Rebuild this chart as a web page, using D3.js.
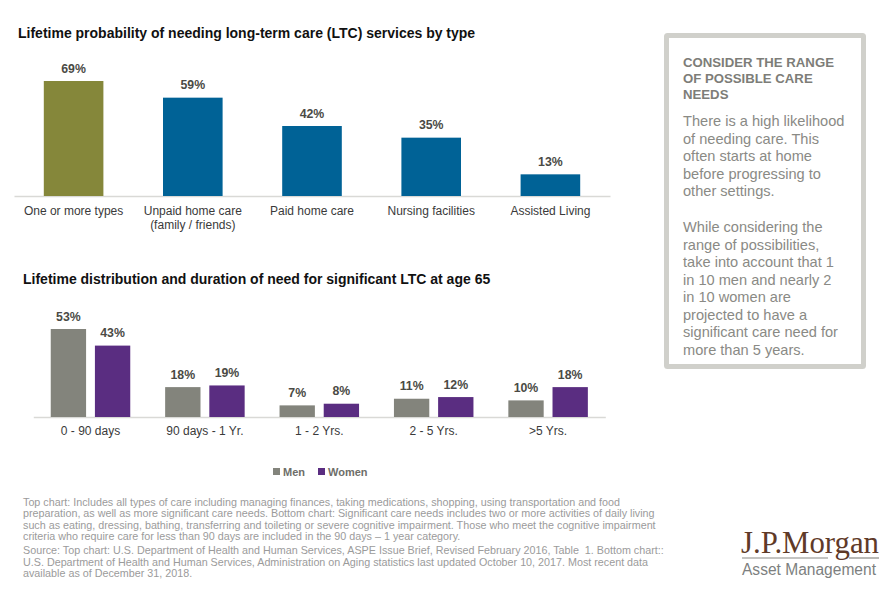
<!DOCTYPE html>
<html>
<head>
<meta charset="utf-8">
<script src="https://cdnjs.cloudflare.com/ajax/libs/d3/7.8.5/d3.min.js"></script>
<style>
  body { margin: 0; background: #fff; }
  text { font-family: "Liberation Sans", Arial, sans-serif; }
</style>
</head>
<body>
<div id="chart-area"></div>
<script>
// Top chart data
var typeLabels = ["One or more types", "Unpaid home care|(family / friends)", "Paid home care", "Nursing facilities", "Assisted Living"];
var typeValues = [69, 59, 42, 35, 13];

// Bottom chart data
var durationLabels = ["0 - 90 days", "90 days - 1 Yr.", "1 - 2 Yrs.", "2 - 5 Yrs.", ">5 Yrs."];
var seriesNames = ["Men", "Women"];
var menValues = [53, 18, 7, 11, 10];
var womenValues = [43, 19, 8, 12, 18];

// Text blocks
var topTitle = "Lifetime probability of needing long-term care (LTC) services by type";
var bottomTitle = "Lifetime distribution and duration of need for significant LTC at age 65";
var panelHeading = ["CONSIDER THE RANGE", "OF POSSIBLE CARE", "NEEDS"];
var panelPara1 = ["There is a high likelihood", "of needing care. This", "often starts at home", "before progressing to", "other settings."];
var panelPara2 = ["While considering the", "range of possibilities,", "take into account that 1", "in 10 men and nearly 2", "in 10 women are", "projected to have a", "significant care need for", "more than 5 years."];
var notes = [
    "Top chart: Includes all types of care including managing finances, taking medications, shopping, using transportation and food",
    "preparation, as well as more significant care needs. Bottom chart: Significant care needs includes two or more activities of daily living",
    "such as eating, dressing, bathing, transferring and toileting or severe cognitive impairment. Those who meet the cognitive impairment",
    "criteria who require care for less than 90 days are included in the 90 days \u2013 1 year category."
];
var sources = [
    "Source: Top chart: U.S. Department of Health and Human Services, ASPE Issue Brief, Revised February 2016, Table \u00a01. Bottom chart::",
    "U.S. Department of Health and Human Services, Administration on Aging statistics last updated October 10, 2017. Most recent data",
    "available as of December 31, 2018."
];

var svg = d3.select("#chart-area")
    .append("svg")
        .attr("width", 890)
        .attr("height", 596)
        .style("display", "block");

var colorOlive = "#85873a", colorBlue = "#006296", colorMen = "#83847c", colorWomen = "#5a2d81";
var labelColor = "#4a4a45", axisTextColor = "#3a3a3a", axisLineColor = "#d9d9d6";

function addTitle(x, y, str) {
    svg.append("text")
        .attr("x", x)
        .attr("y", y)
        .attr("font-size", "14px")
        .attr("font-weight", "bold")
        .attr("fill", "#111")
        .text(str);
}

function styleAxis(sel) {
    sel.select(".domain").attr("stroke", axisLineColor).attr("stroke-width", 1.5);
    sel.selectAll(".tick line").remove();
}

function addLines(lines, x, yStart, step, size, color, weight) {
    lines.forEach(function(line, i) {
        svg.append("text")
            .attr("x", x)
            .attr("y", yStart + i * step)
            .attr("font-size", size)
            .attr("font-weight", weight || "normal")
            .attr("fill", color)
            .text(line);
    });
}

// Top chart
addTitle(18, 38, topTitle);

var xTop = d3.scaleBand()
    .domain(typeLabels)
    .range([14, 610])
    .paddingInner(0.5)
    .paddingOuter(0.25);
var yTop = d3.scaleLinear()
    .domain([0, 69])
    .range([196, 81]);

var topAxis = svg.append("g")
    .attr("transform", "translate(0,196)")
    .call(d3.axisBottom(xTop).tickSize(0).tickSizeOuter(0).tickFormat(""));
styleAxis(topAxis);

// category labels, the second one runs over two lines
topAxis.selectAll(".tick text").each(function(d) {
    var label = d3.select(this)
        .attr("y", 19)
        .attr("dy", 0)
        .attr("font-size", "12px")
        .attr("font-family", "Liberation Sans")
        .attr("fill", axisTextColor);
    d.split("|").forEach(function(part, i) {
        label.append("tspan")
            .attr("x", 0)
            .attr("dy", i == 0 ? 0 : 14)
            .text(part);
    });
});

svg.selectAll(".top-bar")
    .data(typeValues)
    .enter().append("rect")
        .attr("class", "top-bar")
        .attr("x", function(d, i) { return xTop(typeLabels[i]); })
        .attr("y", function(d) { return yTop(d); })
        .attr("width", xTop.bandwidth())
        .attr("height", function(d) { return yTop(0) - yTop(d); })
        .attr("fill", function(d, i) { return i == 0 ? colorOlive : colorBlue; });

svg.selectAll(".top-label")
    .data(typeValues)
    .enter().append("text")
        .attr("class", "top-label")
        .attr("x", function(d, i) { return xTop(typeLabels[i]) + xTop.bandwidth() / 2; })
        .attr("y", function(d) { return yTop(d) - 8.5; })
        .attr("text-anchor", "middle")
        .attr("font-size", "12.3px")
        .attr("font-weight", "bold")
        .attr("fill", labelColor)
        .text(function(d) { return d + "%"; });

// Bottom chart
addTitle(23, 284, bottomTitle);

var x0 = d3.scaleBand()
    .domain(durationLabels)
    .range([33.3, 605.3])
    .paddingInner(0.305)
    .paddingOuter(0.1525);
var x1 = d3.scaleBand()
    .domain(seriesNames)
    .range([0, x0.bandwidth()])
    .paddingInner(0.2);
var yBottom = d3.scaleLinear()
    .domain([0, 53])
    .range([417, 329]);
var seriesColor = d3.scaleOrdinal()
    .domain(seriesNames)
    .range([colorMen, colorWomen]);

var bottomAxis = svg.append("g")
    .attr("transform", "translate(0,417)")
    .call(d3.axisBottom(x0).tickSize(0).tickSizeOuter(0));
styleAxis(bottomAxis);
bottomAxis.selectAll(".tick text")
    .attr("y", 18)
    .attr("dy", 0)
    .attr("font-size", "12px")
    .attr("font-family", "Liberation Sans")
    .attr("fill", axisTextColor);

[menValues, womenValues].forEach(function(values, s) {
    var name = seriesNames[s];
    svg.selectAll(".bar-" + name)
        .data(values)
        .enter().append("rect")
            .attr("class", "bar-" + name)
            .attr("x", function(d, i) { return x0(durationLabels[i]) + x1(name); })
            .attr("y", function(d) { return yBottom(d); })
            .attr("width", x1.bandwidth())
            .attr("height", function(d) { return yBottom(0) - yBottom(d); })
            .attr("fill", seriesColor(name));

    svg.selectAll(".label-" + name)
        .data(values)
        .enter().append("text")
            .attr("class", "label-" + name)
            .attr("x", function(d, i) { return x0(durationLabels[i]) + x1(name) + x1.bandwidth() / 2; })
            .attr("y", function(d) { return yBottom(d) - 8.5; })
            .attr("text-anchor", "middle")
            .attr("font-size", "12.3px")
            .attr("font-weight", "bold")
            .attr("fill", labelColor)
            .text(function(d) { return d + "%"; });
});

// Legend
var legendX = [273, 318];
seriesNames.forEach(function(name, i) {
    var row = svg.append("g")
        .attr("transform", "translate(" + legendX[i] + ",468)");
    row.append("rect")
        .attr("width", 7)
        .attr("height", 7)
        .attr("fill", seriesColor(name));
    row.append("text")
        .attr("x", 10)
        .attr("y", 8)
        .attr("font-size", "11px")
        .attr("font-weight", "bold")
        .attr("fill", "#6e6e69")
        .text(name);
});

// Side panel
svg.append("rect")
    .attr("x", 666.5)
    .attr("y", 35.5)
    .attr("width", 197)
    .attr("height", 331)
    .attr("rx", 1)
    .attr("fill", "#fff")
    .attr("stroke", "#d0d0cb")
    .attr("stroke-width", 5);
addLines(panelHeading, 683, 67, 16, "13.2px", "#7d7d78", "bold");
addLines(panelPara1, 683, 126, 17.5, "14.6px", "#8a8a85");
addLines(panelPara2, 683, 232, 17.55, "14.6px", "#8a8a85");

// Footnotes
addLines(notes, 23, 505.5, 11.6, "10.75px", "#9b9b9b");
addLines(sources, 23, 554, 11.6, "10.75px", "#9b9b9b");

// Logo
svg.append("text")
    .attr("x", 741)
    .attr("y", 553)
    .attr("font-size", "31px")
    .style("font-family", "'Liberation Serif', serif")
    .attr("fill", "#5f3a28")
    .attr("textLength", 138)
    .attr("lengthAdjust", "spacingAndGlyphs")
    .text("J.P.Morgan");
svg.append("line")
    .attr("x1", 742).attr("x2", 828)
    .attr("y1", 558).attr("y2", 558)
    .attr("stroke", "#8a8a85").attr("stroke-width", 1.2);
svg.append("line")
    .attr("x1", 849).attr("x2", 879)
    .attr("y1", 558).attr("y2", 558)
    .attr("stroke", "#8a8a85").attr("stroke-width", 1.2);
svg.append("text")
    .attr("x", 742)
    .attr("y", 575)
    .attr("font-size", "16px")
    .attr("fill", "#7d7f80")
    .attr("textLength", 134)
    .attr("lengthAdjust", "spacingAndGlyphs")
    .text("Asset Management");
</script>
</body>
</html>
